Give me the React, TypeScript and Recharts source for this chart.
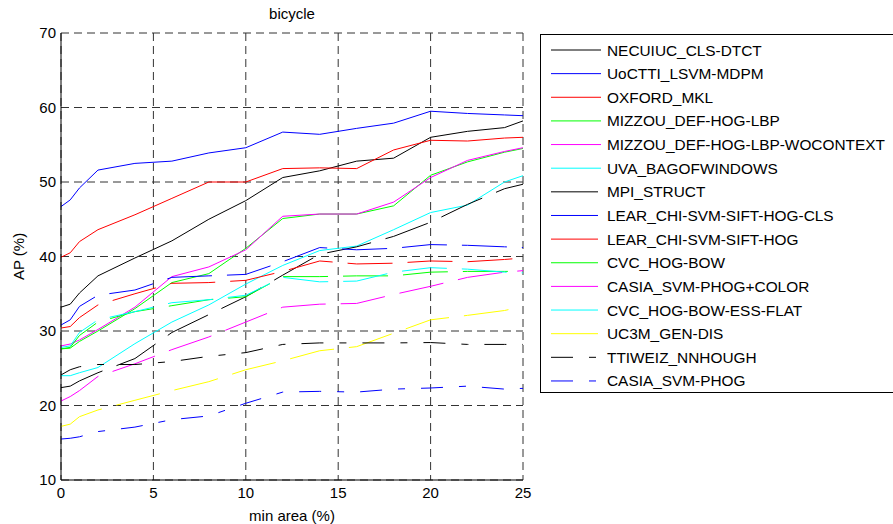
import React from 'react';
import { LineChart, Line, XAxis, YAxis, CartesianGrid } from 'recharts';

// min area (%) sample points
const minArea = [0, 0.5, 1, 2, 4, 6, 8, 10, 12, 14, 16, 18, 20, 22, 24, 25];

const xTicks = [0, 5, 10, 15, 20, 25];
const yTicks = [10, 20, 30, 40, 50, 60, 70];

// AP (%) per method
const necuiuc = [33.2, 33.6, 35.1, 37.4, 39.8, 42.1, 45.0, 47.5, 50.6, 51.5, 52.8, 53.2, 56.0, 56.8, 57.3, 58.2];
const uoctti = [46.7, 47.6, 49.2, 51.6, 52.5, 52.8, 53.9, 54.6, 56.7, 56.4, 57.2, 57.9, 59.5, 59.2, 59.0, 58.9];
const oxford = [39.9, 40.5, 42.0, 43.6, 45.6, 47.8, 50.0, 50.0, 51.8, 51.9, 51.8, 54.3, 55.6, 55.5, 55.9, 56.0];
const mizzou = [27.6, 27.7, 28.6, 30.0, 33.0, 36.5, 37.7, 41.1, 45.1, 45.7, 45.7, 46.8, 50.9, 52.7, 54.0, 54.5];
const mizzouWo = [28.0, 28.25, 28.8, 30.2, 33.2, 37.3, 38.6, 40.9, 45.4, 45.7, 45.7, 47.3, 50.6, 52.9, 54.1, 54.6];
const uva = [24.0, 24.0, 24.4, 25.1, 28.3, 31.2, 33.5, 36.3, 38.8, 40.8, 41.4, 43.6, 45.9, 46.9, 50.0, 50.85];
const mpi = [22.4, 22.6, 23.3, 24.4, 26.3, 29.8, 32.2, 34.6, 37.5, 40.3, 41.3, 42.7, 44.6, 47.0, 49.1, 49.7];
const learCls = [30.8, 31.5, 33.3, 34.8, 35.5, 37.2, 37.4, 37.6, 39.3, 41.2, 40.9, 41.1, 41.6, 41.5, 41.3, 41.2];
const lear = [30.4, 30.6, 31.8, 33.5, 35.0, 36.4, 36.5, 36.8, 38.0, 39.4, 39.0, 39.1, 39.4, 39.3, 39.6, 39.8];
const cvcBow = [27.6, 27.8, 29.4, 31.2, 32.6, 33.4, 34.2, 34.6, 37.3, 37.3, 37.4, 37.4, 37.9, 38.0, 38.0, 38.0];
const casiaColor = [20.6, 21.2, 22.0, 23.9, 25.6, 27.5, 29.2, 31.2, 33.2, 33.6, 33.7, 34.9, 36.0, 37.2, 37.9, 38.1];
const cvcEss = [27.8, 28.0, 29.8, 31.5, 32.6, 33.8, 34.2, 34.8, 37.2, 36.6, 36.7, 37.9, 38.5, 38.3, 37.9, 37.8];
const uc3m = [17.2, 17.5, 18.5, 19.4, 20.7, 22.0, 23.2, 24.8, 26.0, 27.35, 27.9, 29.7, 31.5, 32.1, 32.75, 33.3];
const ttiweiz = [24.1, 24.8, 25.2, 25.5, 25.5, 25.9, 26.6, 27.1, 28.2, 28.4, 28.4, 28.4, 28.45, 28.2, 28.2, 28.2];
const casia = [15.5, 15.6, 15.8, 16.5, 17.1, 18.1, 18.6, 20.3, 21.8, 21.9, 21.8, 22.2, 22.35, 22.6, 22.2, 22.3];

const LONG_DASH = '45 15';
const DASH_DOT = '22 16 7 16';

const series = [
  { key: 'necuiuc', name: 'NECUIUC_CLS-DTCT', values: necuiuc, color: '#000000' },
  { key: 'uoctti', name: 'UoCTTI_LSVM-MDPM', values: uoctti, color: '#0000ff' },
  { key: 'oxford', name: 'OXFORD_MKL', values: oxford, color: '#ff0000' },
  { key: 'mizzou', name: 'MIZZOU_DEF-HOG-LBP', values: mizzou, color: '#00ff00' },
  { key: 'mizzouWo', name: 'MIZZOU_DEF-HOG-LBP-WOCONTEXT', values: mizzouWo, color: '#ff00ff' },
  { key: 'uva', name: 'UVA_BAGOFWINDOWS', values: uva, color: '#00ffff' },
  { key: 'mpi', name: 'MPI_STRUCT', values: mpi, color: '#000000', dash: LONG_DASH },
  { key: 'learCls', name: 'LEAR_CHI-SVM-SIFT-HOG-CLS', values: learCls, color: '#0000ff', dash: LONG_DASH },
  { key: 'lear', name: 'LEAR_CHI-SVM-SIFT-HOG', values: lear, color: '#ff0000', dash: LONG_DASH },
  { key: 'cvcBow', name: 'CVC_HOG-BOW', values: cvcBow, color: '#00ff00', dash: LONG_DASH },
  { key: 'casiaColor', name: 'CASIA_SVM-PHOG+COLOR', values: casiaColor, color: '#ff00ff', dash: LONG_DASH },
  { key: 'cvcEss', name: 'CVC_HOG-BOW-ESS-FLAT', values: cvcEss, color: '#00ffff', dash: LONG_DASH },
  { key: 'uc3m', name: 'UC3M_GEN-DIS', values: uc3m, color: '#ffff00', dash: LONG_DASH },
  { key: 'ttiweiz', name: 'TTIWEIZ_NNHOUGH', values: ttiweiz, color: '#000000', dash: DASH_DOT },
  { key: 'casia', name: 'CASIA_SVM-PHOG', values: casia, color: '#0000ff', dash: DASH_DOT },
];

const data = minArea.map((x, i) => {
  const row: any = { x };
  series.forEach((s) => { row[s.key] = s.values[i]; });
  return row;
});

const FONT = '"Liberation Sans", Arial, Helvetica, sans-serif';

const XLabel = ({ viewBox }: any) => (
  <text x={viewBox.x + viewBox.width / 2} y={viewBox.y + 35} textAnchor="middle"
    dominantBaseline="central" fontSize={15} fontFamily={FONT} fill="#000">min area (%)</text>
);

const YLabel = ({ viewBox }: any) => {
  const cx = viewBox.x - 3;
  const cy = viewBox.y + viewBox.height / 2;
  return (
    <text x={cx} y={cy} transform={`rotate(-90, ${cx}, ${cy})`} textAnchor="middle"
      dominantBaseline="central" fontSize={15} fontFamily={FONT} fill="#000">AP (%)</text>
  );
};

const LegendBox = () => (
  <div style={{ position: 'absolute', left: 540, top: 34, width: 370, height: 359,
    border: '1px solid #000', background: '#fff', boxSizing: 'border-box' }}>
    <svg width={370} height={359}>
      {series.map((s, i) => {
        const y = 15 + i * 23.64;
        return (
          <g key={s.key}>
            <line x1={10} x2={s.dash ? 57 : 60} y1={y} y2={y} stroke={s.color}
              strokeWidth={1} strokeDasharray={s.dash === DASH_DOT ? DASH_DOT : undefined} />
            <text x={66} y={y} dominantBaseline="central" fontSize={15.4} fontFamily={FONT} fill="#000">{s.name}</text>
          </g>
        );
      })}
    </svg>
  </div>
);

export default function App() {
  return (
    <div style={{ position: 'absolute', left: 0, top: 0, width: 893, height: 524, overflow: 'hidden', background: '#fff' }}>
      <div style={{ position: 'absolute', left: 61, top: 5, width: 462, textAlign: 'center',
        fontFamily: FONT, fontSize: 15, lineHeight: '18px', color: '#000' }}>bicycle</div>
      <LineChart width={893} height={524} data={data} margin={{ top: 33, right: 370, bottom: 0, left: 21 }}>
        <CartesianGrid stroke="#333" strokeDasharray="8 5" xAxisId={0} yAxisId={0} />
        <XAxis dataKey="x" type="number" domain={[0, 25]} ticks={xTicks} height={44}
          axisLine={{ stroke: '#000' }} tickLine={false} tickSize={0} tickMargin={7}
          tick={{ fill: '#000', fontSize: 15, fontFamily: FONT }} interval={0}
          label={{ content: XLabel }} allowDataOverflow />
        <XAxis xAxisId="top" orientation="top" dataKey="x" type="number" domain={[0, 25]} ticks={xTicks}
          height={0} tick={false} tickLine={false} axisLine={{ stroke: '#000' }} />
        <YAxis type="number" domain={[10, 70]} ticks={yTicks} width={40}
          axisLine={{ stroke: '#000' }} tickLine={false} tickSize={0} tickMargin={5}
          tick={{ fill: '#000', fontSize: 15, fontFamily: FONT }} interval={0}
          label={{ content: YLabel }} allowDataOverflow />
        <YAxis yAxisId="right" orientation="right" type="number" domain={[10, 70]} ticks={yTicks}
          width={0} tick={false} tickLine={false} axisLine={{ stroke: '#000' }} />
        {series.map((s) => (
          <Line key={s.key} type="linear" dataKey={s.key} name={s.name} stroke={s.color}
            strokeWidth={1} strokeDasharray={s.dash} dot={false} activeDot={false}
            isAnimationActive={false} />
        ))}
      </LineChart>
      <LegendBox />
    </div>
  );
}
